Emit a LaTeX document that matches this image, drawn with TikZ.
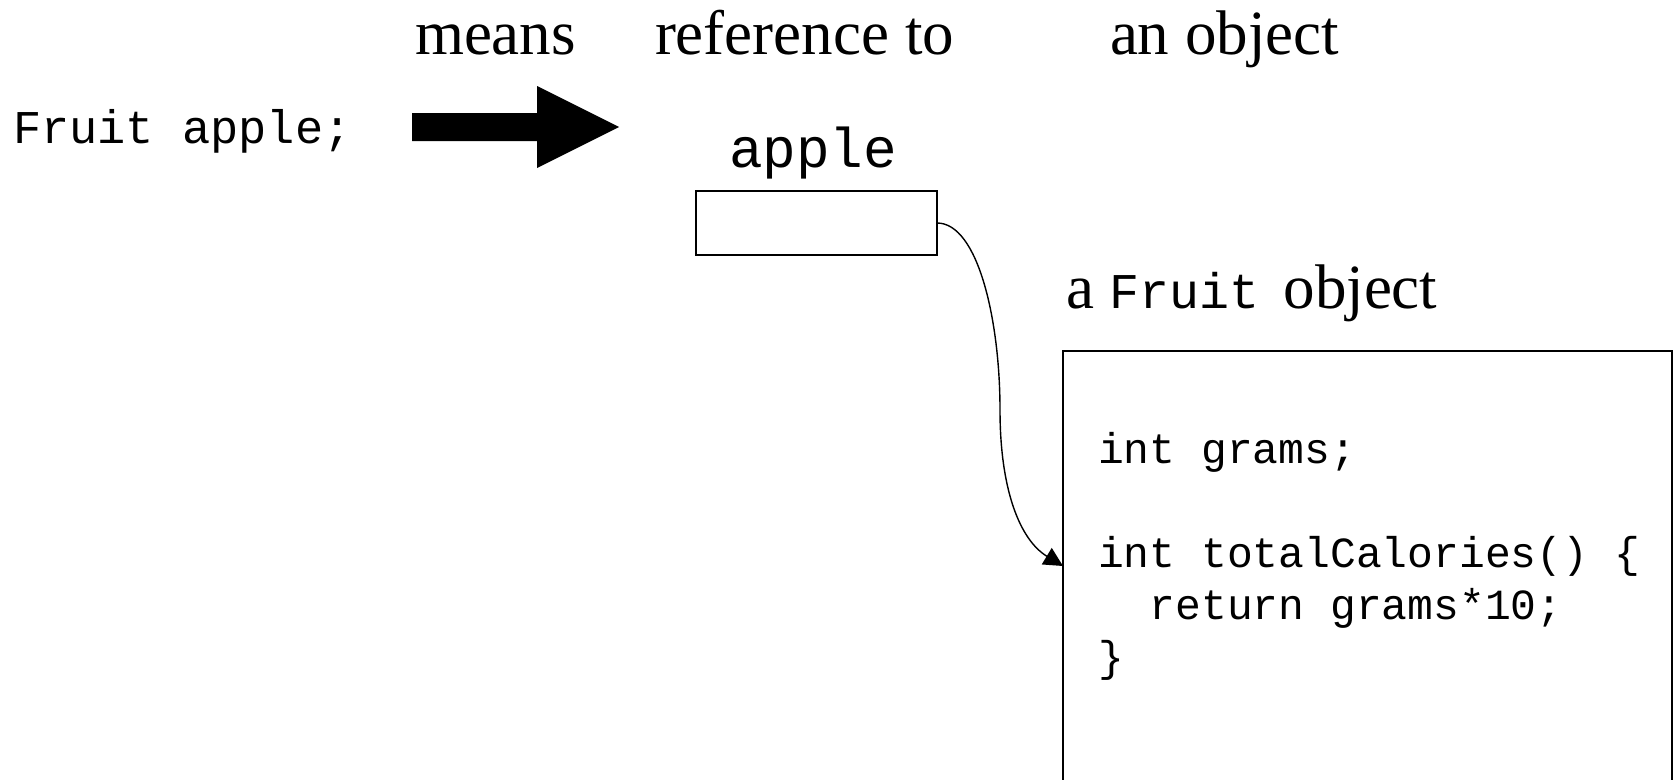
\documentclass[tikz,border=0pt]{standalone}
\usepackage{fontspec}
\setmainfont{Liberation Serif}
\setmonofont{Liberation Mono}
\usetikzlibrary{arrows.meta}
\begin{document}
\begin{tikzpicture}[x=1pt,y=-1pt,
  lbl/.style={inner sep=0pt,outer sep=0pt,anchor=base west},
  head/.style={lbl,font=\fontsize{63}{70}\selectfont},
  codebig/.style={lbl,font=\ttfamily\fontsize{47}{52}\selectfont},
  codelbl/.style={lbl,font=\ttfamily\fontsize{56}{60}\selectfont},
  codebox/.style={lbl,font=\ttfamily\fontsize{43}{52}\selectfont},
  boxstyle/.style={draw,line width=1.4pt,inner sep=0pt,outer sep=0pt},
  link/.style={line width=1.4pt,-{Triangle[length=19pt,width=19pt]}}]
\useasboundingbox (0,0) rectangle (1678,779);
% headings
\node[head] (means) at (415,54) {means};
\node[head] (refto) at (655,54) {reference to};
\node[head] (anobj) at (1110,54) {an object};
% declaration
\node[codebig] (decl) at (13,143) {Fruit apple;};
% big arrow
\fill (412,113) -- (537,113) -- (537,86) -- (619,127) -- (537,168) -- (537,141) -- (412,141) -- cycle;
% reference box
\node[codelbl] (applelbl) at (729,167) {apple};
\node[boxstyle,minimum width=241pt,minimum height=64pt] (ref) at (816.5,223) {};
% object
\node[lbl,font=\fontsize{63}{70}\selectfont] (objlbl) at (1066,308) {a {\ttfamily\fontsize{50}{60}\selectfont Fruit}\hspace{8pt} object};
\node[boxstyle,anchor=north west,minimum width=609pt,minimum height=460pt] (obj) at (1063,351) {};
\node[codebox] (c1) at (1098,463) {int grams;};
\node[codebox] (c2) at (1098,567) {int totalCalories() \{};
\node[codebox] (c3) at (1098,619) {\ \ return grams*10;};
\node[codebox] (c4) at (1098,671) {\}};
% connector
\coordinate (tgt) at (1063,566);
\draw[link] (ref.east) .. controls (978,223) and (1000,320) .. (1000,410)
  .. controls (1000,490) and (1020,540) .. (tgt);
\end{tikzpicture}
\end{document}
